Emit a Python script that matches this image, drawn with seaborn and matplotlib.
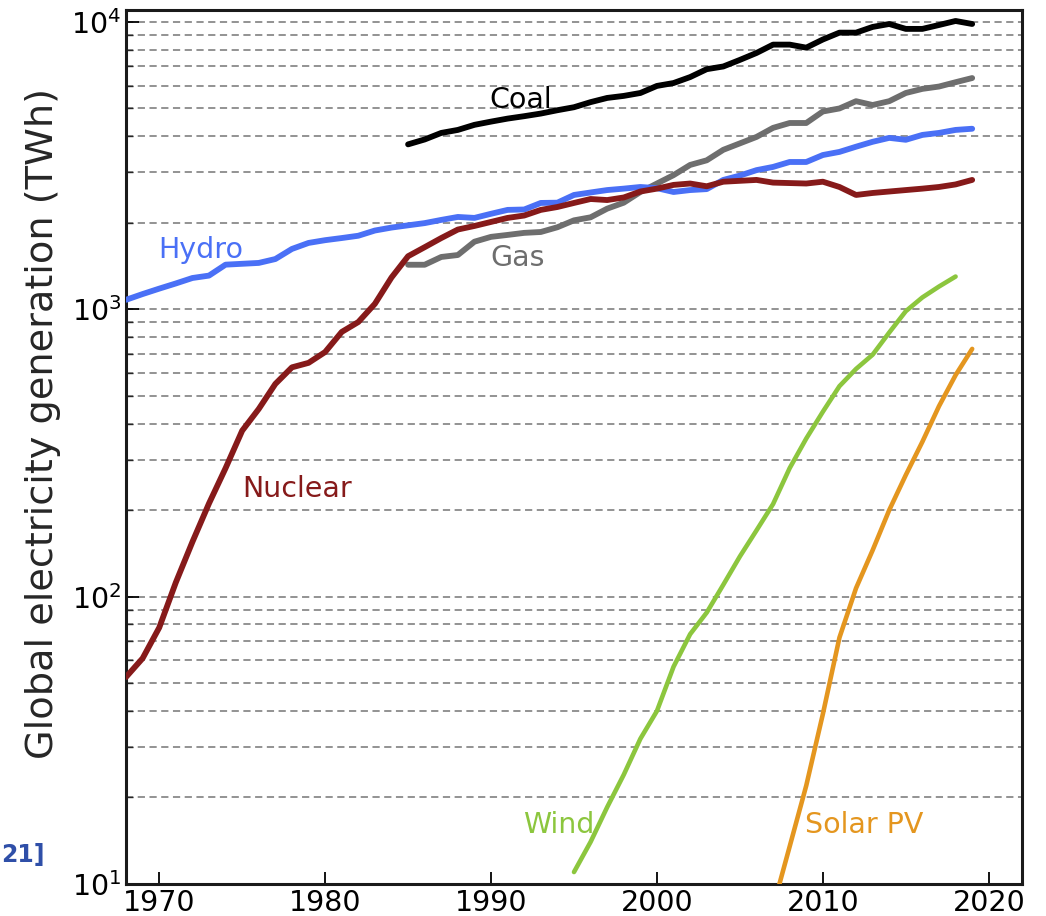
import numpy as np
import pandas as pd
import matplotlib
matplotlib.use("Agg")
import matplotlib.pyplot as plt
import matplotlib.ticker as mticker
import seaborn as sns

# ----------------- DATA (TWh) -----------------
hydro_years = list(range(1968, 2020))
hydro_twh = [1079, 1130, 1180, 1230, 1285, 1310, 1430, 1440, 1450, 1496,
             1622, 1702, 1740, 1770, 1803, 1880, 1925, 1960, 1995, 2047,
             2096, 2080, 2150, 2218, 2225, 2345, 2350, 2500, 2550, 2600,
             2630, 2665, 2640, 2560, 2600, 2620, 2820, 2920, 3050, 3130,
             3256, 3256, 3443, 3530, 3680, 3828, 3950, 3890, 4045, 4110,
             4210, 4250]

nuclear_years = list(range(1968, 2020))
nuclear_twh = [52.5, 61, 78, 112, 155, 211, 280, 378, 450, 550,
               628, 651, 710, 834, 903, 1045, 1290, 1530, 1645, 1770,
               1895, 1950, 2014, 2080, 2120, 2218, 2270, 2345, 2420, 2400,
               2450, 2570, 2630, 2710, 2740, 2680, 2780, 2800, 2820, 2760,
               2750, 2740, 2780, 2665, 2500, 2540, 2570, 2600, 2630, 2665,
               2720, 2820]

coal_years = list(range(1985, 2020))
coal_twh = [3750, 3900, 4110, 4210, 4385, 4500, 4610, 4700, 4800, 4930,
            5050, 5260, 5440, 5530, 5660, 5990, 6130, 6430, 6850, 7000,
            7380, 7800, 8340, 8340, 8140, 8690, 9180, 9180, 9610, 9840,
            9460, 9460, 9760, 10080, 9840]

gas_years = list(range(1985, 2020))
gas_twh = [1429, 1429, 1521, 1545, 1719, 1787, 1815, 1845, 1858, 1930,
           2040, 2090, 2240, 2350, 2560, 2740, 2930, 3180, 3300, 3590,
           3780, 3980, 4280, 4450, 4450, 4880, 5000, 5300, 5140, 5300,
           5660, 5850, 5960, 6170, 6380]

wind_years = list(range(1995, 2019))
wind_twh = [11, 14, 18.5, 24, 32, 40, 57, 74, 88, 110,
            138, 170, 210, 280, 355, 440, 540, 620, 695, 830,
            985, 1100, 1200, 1300]

solar_years = list(range(2006, 2020))
solar_twh = [5.5, 8.3, 13.5, 22, 39, 72, 107, 145, 200, 265,
             346, 460, 590, 728]

SERIES = [
    ("Coal", coal_years, coal_twh, "black", 4.2),
    ("Gas", gas_years, gas_twh, "#6e6e6e", 4.2),
    ("Hydro", hydro_years, hydro_twh, "#4a70f6", 4.2),
    ("Nuclear", nuclear_years, nuclear_twh, "#861a1a", 4.2),
    ("Wind", wind_years, wind_twh, "#8cc63e", 3.3),
    ("Solar PV", solar_years, solar_twh, "#e4961f", 3.3),
]

# label anchor points (year, TWh)
label_pos = {
    "Coal": (1991.8, 5350),
    "Gas": (1991.6, 1510),
    "Hydro": (1972.5, 1610),
    "Nuclear": (1978.3, 237),
    "Wind": (1994.1, 16),
    "Solar PV": (2012.5, 16),
}
# -------------------------------------------------------------------

sns.set_style("ticks")
plt.rcParams["font.family"] = ["DejaVu Sans"]

fig = plt.figure(figsize=(10.46, 9.16), dpi=100)
ax = fig.add_axes([0.1205, 0.035, 0.8565, 0.954])

ax.set_yscale("log")
ax.set_ylim(10, 11000)
ax.set_xlim(1968, 2022)

# dashed horizontal grid at every major and minor decade tick
ax.yaxis.set_minor_locator(mticker.LogLocator(base=10, subs=np.arange(2, 10)))
ax.grid(which="both", axis="y", color="#8a8a8a", linestyle=(0, (4, 2.5)), linewidth=1.3)
ax.grid(which="both", axis="x", visible=False)
ax.set_axisbelow(True)

for name, yrs, vals, col, lw in SERIES:
    df = pd.DataFrame({"year": yrs, "twh": vals})
    sns.lineplot(data=df, x="year", y="twh", ax=ax, color=col, linewidth=lw,
                 solid_capstyle="round", solid_joinstyle="round", zorder=3)
    lx, ly = label_pos[name]
    ax.text(lx, ly, name, color=col, fontsize=20.5, ha="center", va="center", zorder=4)

ax.set_xticks([1970, 1980, 1990, 2000, 2010, 2020])
ax.tick_params(axis="both", which="major", direction="in", length=9, width=1.3,
               labelsize=20.5, colors="black")
ax.tick_params(axis="y", which="minor", direction="in", length=5, width=1)
ax.tick_params(axis="y", which="minor", labelleft=False)

ax.set_xlabel("")
ax.set_ylabel("Global electricity generation (TWh)", fontsize=27.5)
ax.yaxis.set_label_coords(-0.073, 0.527)

for side in ["left", "bottom", "top", "right"]:
    ax.spines[side].set_visible(True)
    ax.spines[side].set_linewidth(2.2)
    ax.spines[side].set_color("#1a1a1a")

# citation marker at the left edge of the page
fig.text(0.001, 0.067, "21]", color="#2f4fa8", fontsize=17, fontweight="bold",
         ha="left", va="center")

fig.savefig("out.png", dpi=100)
